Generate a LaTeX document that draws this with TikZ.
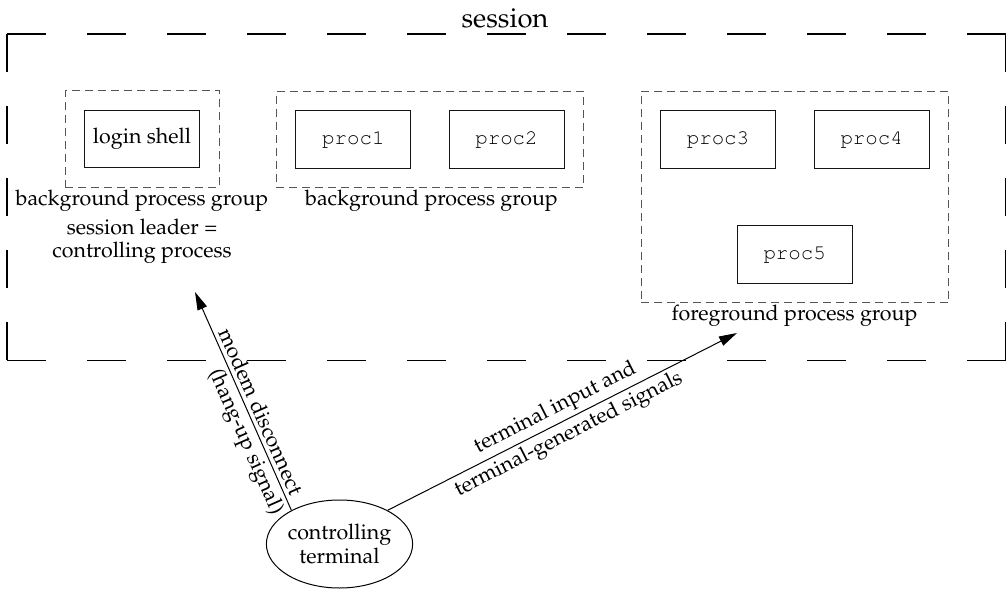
\documentclass[tikz,border=0pt]{standalone}
\usepackage[T1]{fontenc}
\usepackage{mathpazo}
\usepackage{courier}
\usepackage{xcolor}
\definecolor{Col1}{RGB}{85,85,85}
\definecolor{Col2}{RGB}{20,20,20}
\usepackage{tikz}
\usetikzlibrary{shapes}
\usetikzlibrary{fit}
\usetikzlibrary{arrows.meta}
\newcommand\procfont{\fontfamily{pcr}\fontseries{m}\fontsize{10.4}{12}\selectfont}
\tikzstyle{Proc}=[draw=Col2,line width=.5pt,minimum width=57.5pt,
minimum height=28.75pt,inner sep=0pt,font=\procfont]
\tikzstyle{Group}=[draw=Col1,line width=.5pt,dash pattern=on 4pt off 2.5pt,
inner sep=9.5pt]
\tikzstyle{Session}=[draw=black,line width=.6pt]
\tikzstyle{Label}=[font=\fontsize{10.7}{11.6}\selectfont,inner sep=0pt,align=center]
\tikzstyle{Term}=[ellipse,draw=black,line width=.5pt,minimum width=72.5pt,
minimum height=44pt,inner sep=0pt,align=center,font=\fontsize{10.7}{11.8}\selectfont]
\tikzstyle{Edge}=[draw=black,line width=.5pt,-{Triangle[length=9pt,width=5pt]}]
\tikzstyle{Side}=[font=\fontsize{10.7}{11.6}\selectfont,inner sep=1.8pt,sloped]

\begin{document}
\begin{tikzpicture}[x=.5pt,y=-.5pt]
        \useasboundingbox(0,0)rectangle(1008,589);
        % session frame
        \coordinate(tl)at(7,34);
        \coordinate(tr)at(1005.5,34);
        \coordinate(bl)at(7,360.5);
        \coordinate(br)at(1005.5,360.5);
        \draw[Session,dash pattern=on 19.3pt off 20.7pt](tl)--(tr);
        \draw[Session,dash pattern=on 19.3pt off 20.7pt](bl)--(br);
        \draw[Session,dash pattern=on 19pt off 17pt](tl)--(bl);
        \draw[Session,dash pattern=on 19pt off 17pt](tr)--(br);
        \node[Label,font=\fontsize{13.7}{16}\selectfont,anchor=base](s)at(505,27){session};
        % processes
        \node[Proc,font=\fontsize{10.7}{12}\selectfont](ls)at(142,139.2){login shell};
        \node[Proc](p1)at(353.4,139.5){proc1};
        \node[Proc](p2)at(506.5,139.5){proc2};
        \node[Proc](p3)at(718,139.4){proc3};
        \node[Proc](p4)at(871.7,139.4){proc4};
        \node[Proc](p5)at(794.7,254.7){proc5};
        \node[Group,fit=(ls)](g0){};
        \node[Group,fit=(p1)(p2)](g1){};
        \node[Group,fit=(p3)(p4)(p5)](g2){};
        \node[Label,anchor=base](l0)at(142,205){background process group};
        \node[Label](l1)at(142,241){session leader =\\controlling process};
        \node[Label,anchor=base](l2)at(431.5,205){background process group};
        \node[Label,anchor=base](l3)at(794.5,320.5){foreground process group};
        % terminal
        \node[Term](ct)at(339.5,544){controlling\\terminal};
        \coordinate(hup)at(195,292);
        \coordinate(fgin)at(737,333);
        \draw[Edge](ct.145)--node[Side,above,pos=.43]{modem disconnect}
            node[Side,below,pos=.34]{(hang-up signal)}(hup);
        \draw[Edge](ct.35)--node[Side,above]{terminal input and}
            node[Side,below]{terminal-generated signals}(fgin);
    \end{tikzpicture}
\end{document}
